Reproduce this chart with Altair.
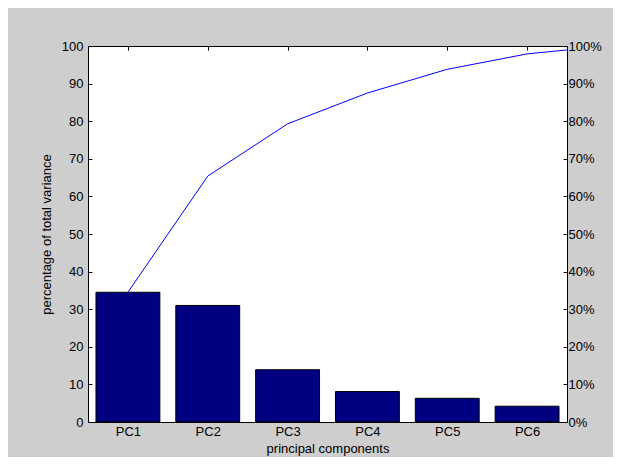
import json
import altair as alt
import pandas as pd

# Data
components = ["PC1", "PC2", "PC3", "PC4", "PC5", "PC6"]
variance = [34.5, 31.0, 13.9, 8.1, 6.3, 4.2]
# cumulative curve (last point lies beyond the visible x-range and is clipped)
cum_positions = [1, 2, 3, 4, 5, 6, 7]
cumulative = [34.5, 65.4, 79.3, 87.5, 93.8, 97.9, 100.0]
y_ticks = [0, 10, 20, 30, 40, 50, 60, 70, 80, 90, 100]

FONT = "Liberation Sans"
FS = 13

bars_df = pd.DataFrame({
    "idx": list(range(1, len(components) + 1)),
    "label": components,
    "value": variance,
})
line_df = pd.DataFrame({"idx": cum_positions, "cum": cumulative})

xscale = alt.Scale(domain=[0.5, len(components) + 0.5], nice=False, zero=False)
yscale = alt.Scale(domain=[0, 100], nice=False)
label_expr = json.dumps(components) + "[datum.value - 1]"

bars = alt.Chart(bars_df).transform_calculate(
    x0="datum.idx - 0.4", x1="datum.idx + 0.4"
).mark_bar(color="#000080", stroke="#000000", strokeWidth=1).encode(
    x=alt.X("x0:Q", scale=xscale, axis=alt.Axis(
        orient="bottom", values=list(range(1, len(components) + 1)),
        labelExpr=label_expr, ticks=False, domain=False, grid=False,
        labelPadding=3, title="principal components",
        titleX=239.5, titleY=26, titleBaseline="middle",
        titleFontWeight="normal")),
    x2="x1:Q",
    y=alt.Y("value:Q", scale=yscale, axis=alt.Axis(
        orient="left", values=y_ticks, offset=-4, tickSize=4, domain=False,
        grid=False, labelPadding=5, tickColor="#000000",
        title="percentage of total variance",
        titleX=-46, titleY=188, titleBaseline="middle", titleAngle=-90,
        titleFontWeight="normal")),
    y2=alt.datum(0),
)

line = alt.Chart(line_df).mark_line(color="#0000ff", strokeWidth=1, clip=True).encode(
    x=alt.X("idx:Q", scale=xscale, axis=alt.Axis(
        orient="top", values=list(range(1, len(components) + 1)), labels=False,
        offset=-4, tickSize=4, domain=False, grid=False, title=None,
        tickColor="#000000")),
    y=alt.Y("cum:Q", scale=yscale, axis=alt.Axis(
        orient="right", values=y_ticks, labelExpr="datum.value + '%'",
        offset=-4, tickSize=4, domain=False, grid=False, labelPadding=1,
        title=None, tickColor="#000000")),
)

chart = alt.layer(bars, line).resolve_scale(
    x="independent", y="independent"
).resolve_axis(
    x="independent", y="independent"
).properties(
    width=479, height=376,
    padding={"left": 80, "top": 38, "right": 46, "bottom": 35},
    autosize=alt.AutoSizeParams(type="none"),
    background="#cecece",
).configure_view(
    stroke="#000000", strokeWidth=1, fill="#ffffff"
).configure_axis(
    labelFont=FONT, titleFont=FONT, labelFontSize=FS, titleFontSize=FS,
    labelColor="#000000", titleColor="#000000",
)

chart.save("out.html", embed_options={"renderer": "svg", "actions": False})
